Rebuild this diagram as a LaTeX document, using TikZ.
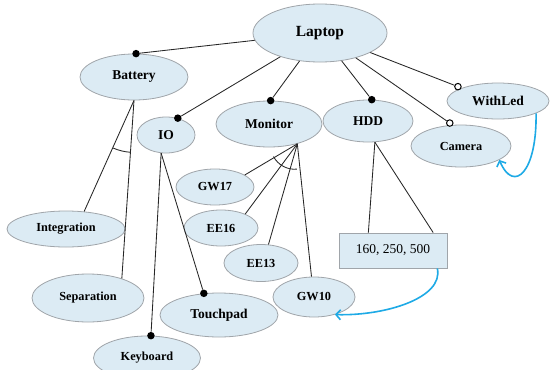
\documentclass[tikz,border=0pt]{standalone}
\usepackage{fontspec}
\setmainfont{Liberation Serif}
\usetikzlibrary{shapes.geometric,arrows.meta,calc}
\definecolor{nodefill}{RGB}{220,235,244}
\definecolor{nodeline}{RGB}{160,165,170}
\definecolor{arrowblue}{RGB}{30,170,230}
\begin{document}
\begin{tikzpicture}[x=1pt,y=1pt,
  ent/.style={ellipse, draw=nodeline, fill=nodefill, line width=0.8pt, inner sep=0pt,
    font=\bfseries\fontsize{12.3}{14}\selectfont},
  entbig/.style={ent, font=\bfseries\fontsize{13.5}{15}\selectfont},
  valbox/.style={rectangle, draw=nodeline, fill=nodefill, line width=0.8pt, inner sep=0pt,
    font=\fontsize{13.5}{15}\selectfont},
  dotb/.style={circle, fill=black, inner sep=0pt, minimum size=7.5pt},
  doto/.style={circle, draw=black, fill=white, line width=1pt, inner sep=0pt, minimum size=6.5pt},
  conn/.style={draw=black!85, line width=0.85pt},
  link/.style={draw=arrowblue, line width=1.6pt, -{Straight Barb[length=4.5pt,width=10pt]}}]
\useasboundingbox[fill=white] (0,0) rectangle (550,-370);

% entities
\node[ent, minimum width=134pt, minimum height=58pt, font=\bfseries\fontsize{15.5}{18}\selectfont] (laptop) at (320,-33) {Laptop};
\node[entbig, minimum width=108pt, minimum height=46pt] (battery) at (134,-77) {Battery};
\node[entbig, minimum width=58pt, minimum height=36pt] (io) at (166,-135) {IO};
\node[entbig, minimum width=106pt, minimum height=46pt] (monitor) at (269,-124) {Monitor};
\node[entbig, minimum width=90pt, minimum height=42pt] (hdd) at (368,-121) {HDD};
\node[entbig, minimum width=102pt, minimum height=36pt] (withled) at (498,-101) {WithLed};
\node[ent, minimum width=100pt, minimum height=42pt] (camera) at (461,-146) {Camera};
\node[ent, minimum width=78pt, minimum height=36pt] (gw17) at (215,-187) {GW17};
\node[ent, minimum width=74pt, minimum height=36pt] (ee16) at (221,-228) {EE16};
\node[ent, minimum width=74pt, minimum height=37pt] (ee13) at (261,-263) {EE13};
\node[ent, minimum width=82pt, minimum height=40pt] (gw10) at (314,-297) {GW10};
\node[ent, minimum width=118pt, minimum height=36pt] (integration) at (66,-229) {Integration};
\node[ent, minimum width=112pt, minimum height=48pt] (separation) at (88,-298) {Separation};
\node[entbig, minimum width=118pt, minimum height=44pt] (touchpad) at (219,-315) {Touchpad};
\node[ent, minimum width=107pt, minimum height=44pt] (keyboard) at (147,-358) {Keyboard};
\node[valbox, minimum width=108pt, minimum height=35pt] (sizes) at (393,-250.5) {160, 250, 500};

% decorations (dots / circles)
\node[dotb] (dBattery) at (battery.85) {};
\node[dotb] (dIO) at (io.55) {};
\node[dotb] (dMonitor) at (monitor.86) {};
\node[dotb] (dHDD) at (hdd.80) {};
\node[doto] (dCamera) at ($(camera.116)+(-1,2)$) {};
\node[doto] (dWithLed) at ($(withled.162)+(-2,2)$) {};
\node[dotb] (dTouchpad) at (touchpad.125) {};
\node[dotb] (dKeyboard) at (keyboard.80) {};

% connectors from Laptop
\draw[conn] (laptop) -- (dBattery);
\draw[conn] (laptop) -- (dIO);
\draw[conn] (laptop) -- (dMonitor);
\draw[conn] (laptop) -- (dHDD);
\draw[conn] (laptop) -- (dCamera);
\draw[conn] (laptop) -- (dWithLed);

% Battery alternatives
\draw[conn] (battery.south) -- (integration.44);
\draw[conn] (battery.south) -- (separation.30);
\draw[conn] (battery.south) ++(246:52pt) arc[start angle=246, end angle=266, radius=52pt];

% IO
\draw[conn] (io.-105) -- (dKeyboard);
\draw[conn] (io.-105) -- (dTouchpad);

% Monitor alternatives
\coordinate (mB) at (monitor.-35.5);
\draw[conn] (mB) -- (gw17.22);
\draw[conn] (mB) -- (ee16.30);
\draw[conn] (mB) -- (ee13.68);
\draw[conn] (mB) -- (gw10.97);
\draw[conn] (mB) ++(208:27pt) arc[start angle=208, end angle=275, radius=24pt];

% HDD
\draw[conn] (hdd.-72) -- (sizes.144);
\draw[conn] (hdd.-72) -- (sizes.24);

% blue links
\draw[link] (sizes.-22) .. controls (444,-298) and (385,-316) .. (gw10.-40);
\draw[link] (withled.-18) .. controls (537,-172) and (514,-194) .. (camera.-20);
\end{tikzpicture}
\end{document}
